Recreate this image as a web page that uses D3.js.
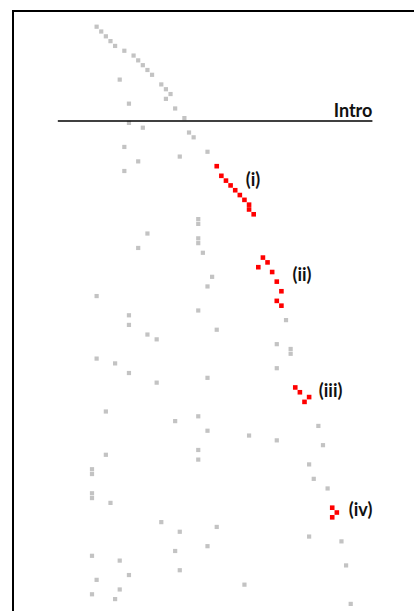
<!DOCTYPE html>
<html>
<head>
<meta charset="utf-8">
<script src="https://cdn.jsdelivr.net/npm/d3@7"></script>
<style>
  body { margin: 0; background: #fff; }
  .label { font-family: Lato, "Open Sans", sans-serif; font-weight: bold; font-size: 18px; fill: #111; }
</style>
</head>
<body>
<div id="chart"></div>
<script>
// Column (source position) for each row, null where the row is empty
var sentenceCol = [
  1, 2, 3, 4, 5, 7, 9, 10, 11, 12,
  13, 6, 15, 16, 17, 16, 8, 18, null, 20,
  8, 11, 21, 22, null, 7, 25, 19, 10, 27,
  7, 28, 29, 30, 31, 32, 33, 34, 34, 35,
  23, 23, null, 12, 23, 23, 10, 24, 37, 38,
  36, 39, 26, 40, 25, 41, 1, 40, 41, 23,
  8, 42, 8, 27, 12, 14, 40, 43, 43, 1,
  5, 40, 8, 25, 14, 44, 45, 47, 46, null,
  3, 23, 18, 49, 25, 34, 40, 50, 23, 3,
  23, 47, 0, 0, 48, null, 51, 0, 0, 4,
  52, 53, 52, 15, 27, 19, 47, 54, 25, 18,
  0, 6, 55, 19, 8, 1, 33, 6, 0, 5,
  56
];

// rows drawn in red
var highlightRows = [29, 31, 32, 33, 34, 35, 36, 37, 38, 39,
                     48, 49, 50, 51, 53, 55, 57, 58,
                     75, 76, 77, 78, 100, 101, 102];

// annotations (data units: column, row)
var groupLabels = ["(i)", "(ii)", "(iii)", "(iv)"];
var groupLabelCol = [33.3, 43.4, 49.1, 55.6];
var groupLabelRow = [33.1, 52.9, 77.0, 101.7];

var introLabel = "Intro";
var introRow = 19.6;
var introCols = [-7.4, 60.7];

var width = 414, height = 611;

var xScale = d3.scaleLinear().domain([0, 56]).range([92, 350.7]),
    yScale = d3.scaleLinear().domain([0, 120]).range([26.7, 603.9]);

var svg = d3.select("#chart")
  .append("svg")
    .attr("width", width)
    .attr("height", height);

// frame (cropped on right and bottom)
svg.append("rect")
   .attr("x", 13)
   .attr("y", 11)
   .attr("width", 600)
   .attr("height", 800)
   .attr("fill", "none")
   .attr("stroke", "#000")
   .attr("stroke-width", 2);

var points = sentenceCol
  .map(function (c, i) { return {row: i, col: c, hot: highlightRows.includes(i)}; })
  .filter(function (d) { return d.col !== null; });

svg.selectAll("rect.pt")
   .data(points)
  .enter().append("rect")
   .attr("class", "pt")
   .attr("x", function (d) { return xScale(d.col) - (d.hot ? 2.3 : 2.1); })
   .attr("y", function (d) { return yScale(d.row) - (d.hot ? 2.3 : 2.1); })
   .attr("width", function (d) { return d.hot ? 4.6 : 4.2; })
   .attr("height", function (d) { return d.hot ? 4.6 : 4.2; })
   .attr("fill", function (d) { return d.hot ? "#ff0000" : "#c3c3c3"; });

// intro divider
svg.append("line")
   .attr("x1", xScale(introCols[0]))
   .attr("x2", xScale(introCols[1]))
   .attr("y1", yScale(introRow))
   .attr("y2", yScale(introRow))
   .attr("stroke", "#000")
   .attr("stroke-width", 1.4);

svg.append("text")
   .attr("class", "label")
   .attr("x", xScale(introCols[1]))
   .attr("y", yScale(introRow) - 4.3)
   .attr("text-anchor", "end")
   .text(introLabel);

svg.selectAll("text.group")
   .data(groupLabels)
  .enter().append("text")
   .attr("class", "label group")
   .attr("x", function (d, i) { return xScale(groupLabelCol[i]); })
   .attr("y", function (d, i) { return yScale(groupLabelRow[i]); })
   .text(function (d) { return d; });
</script>
</body>
</html>
